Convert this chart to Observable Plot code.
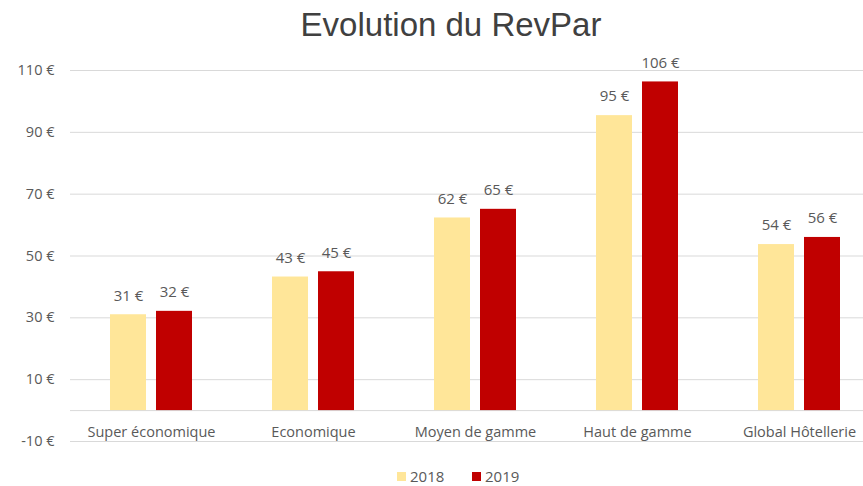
<!DOCTYPE html>
<html>
<head>
<meta charset="utf-8">
<script src="https://cdn.jsdelivr.net/npm/d3@7"></script>
<script src="https://cdn.jsdelivr.net/npm/@observablehq/plot@0.6"></script>
<style>
  body { margin: 0; background: #fff; overflow: hidden; }
  #wrap { position: relative; width: 863px; height: 486px; overflow: hidden; font-family: "Open Sans", sans-serif; }
  #title { height: 50px; position: relative; }
  #title span { position: absolute; left: 451px; top: 25px; transform: translate(-50%, -50%); font-family: "Liberation Sans", Arial, sans-serif; font-size: 33px; color: #404040; white-space: nowrap; }
  #chart { width: 863px; height: 410px; overflow: hidden; }
  #chart svg { display: block; max-width: none !important; }
  #legend { position: absolute; top: 467px; left: 0; width: 863px; height: 19px; }
  .lg { position: absolute; top: 0; display: flex; align-items: center; font-size: 15px; color: #595959; line-height: 19px; height: 19px; }
  .sw { width: 9px; height: 9px; margin-right: 4px; }
</style>
</head>
<body>
<div id="wrap">
  <div id="title"><span>Evolution du RevPar</span></div>
  <div id="chart"></div>
  <div id="legend"></div>
</div>
<script>
const categories = ["Super économique", "Economique", "Moyen de gamme", "Haut de gamme", "Global Hôtellerie"];
const years = ["2018", "2019"];
const values2018 = [31.0, 43.2, 62.3, 95.4, 53.7];
const values2019 = [32.1, 44.9, 65.1, 106.3, 56.0];
const colors = ["#FFE699", "#C00000"];
const yTicks = [-10, 10, 30, 50, 70, 90, 110];

const data = [];
categories.forEach((c, i) => {
  data.push({cat: c, year: "2018", value: values2018[i]});
  data.push({cat: c, year: "2019", value: values2019[i]});
});

const fmt = d => `${Math.round(d)} €`;

const chart = Plot.plot({
  width: 880,
  height: 410,
  marginLeft: 70,
  marginRight: 0,
  marginTop: 20,
  marginBottom: 19,
  style: {fontFamily: "'Open Sans', sans-serif", fontSize: "14.5px", color: "#595959", background: "transparent"},
  fx: {domain: categories, padding: 0, axis: null, label: null},
  x: {domain: years, axis: null, paddingInner: 0.217, paddingOuter: 0.869},
  y: {domain: [-10, 110], label: null},
  color: {domain: years, range: colors},
  marks: [
    Plot.gridY(yTicks, {stroke: "#d9d9d9", strokeOpacity: 1}),
    Plot.ruleY([0], {stroke: "#d9d9d9", strokeOpacity: 1}),
    Plot.axisY(yTicks, {tickSize: 0, tickPadding: 16, tickFormat: d => `${d} €`, label: null, fontSize: 14.5, fill: "#595959"}),
    Plot.barY(data, {fx: "cat", x: "year", y: "value", fill: "year"}),
    Plot.text(data, {fx: "cat", x: "year", y: "value", text: d => fmt(d.value), dy: -19, fontSize: 15, fill: "#595959"}),
    Plot.text(categories, {fx: d => d, y: 0, text: d => d, dy: 22, fontSize: 14.5, fill: "#595959"})
  ]
});
document.getElementById("chart").appendChild(chart);

const legend = document.getElementById("legend");
const lpos = [397, 472];
years.forEach((y, i) => {
  const el = document.createElement("div");
  el.className = "lg";
  el.style.left = lpos[i] + "px";
  el.innerHTML = `<div class="sw" style="background:${colors[i]}"></div><span>${y}</span>`;
  legend.appendChild(el);
});
</script>
</body>
</html>
